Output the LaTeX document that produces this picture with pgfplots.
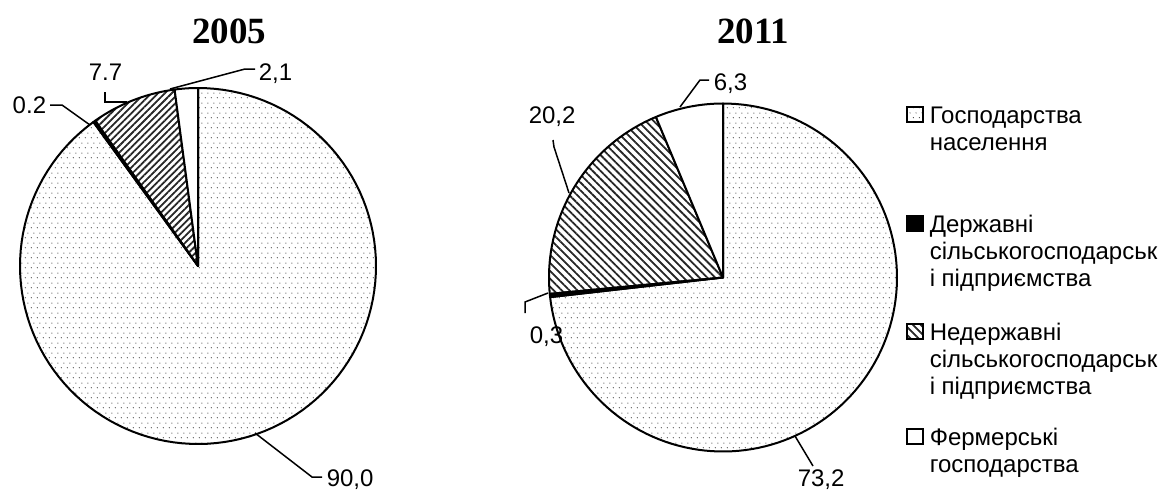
\documentclass[border=0pt]{standalone}
\usepackage{fontspec}
\setmainfont{Liberation Sans}
\newfontfamily\serif{Liberation Serif}
\usepackage{pgfplots}
\pgfplotsset{compat=1.18}
\usetikzlibrary{patterns,patterns.meta}

\pgfdeclarepatternformonly{sparsedots}{\pgfqpoint{0pt}{0pt}}{\pgfqpoint{3pt}{5pt}}{\pgfqpoint{3pt}{5pt}}{%
  \pgfpathcircle{\pgfqpoint{0.75pt}{1.25pt}}{0.32pt}%
  \pgfpathcircle{\pgfqpoint{2.25pt}{3.75pt}}{0.32pt}%
  \pgfusepath{fill}}

% #1 cumulative start (%), #2 share (%), #3 radius, #4 style
\newcommand\slice[4]{%
  \addplot[#4, line width=1pt, line join=round, domain={90-3.6*(#1+#2)}:{90-3.6*(#1)}, samples=120]
    ({#3*cos(x)},{#3*sin(x)}) -- (axis cs:0,0) -- cycle;}

\tikzset{
  dotsty/.style={draw=black, pattern=sparsedots, pattern color=black!75},
  hatchA/.style={draw=black, pattern={Lines[angle=45,distance=2.4pt,line width=0.9pt]}, pattern color=black!85},
  hatchB/.style={draw=black, pattern={Lines[angle=-45,distance=2.8pt,line width=0.9pt]}, pattern color=black!85},
  blacksty/.style={draw=black, fill=black},
  whitesty/.style={draw=black, fill=white},
}

\begin{document}
\begin{tikzpicture}[every node/.style={font=\fontsize{12}{13.5}\selectfont, inner sep=0pt}]
% ---- 2005 ----
\begin{axis}[at={(99pt,-133pt)}, anchor=center, x=0.5pt, y=0.5pt,
  xmin=-180, xmax=180, ymin=-180, ymax=180, hide axis, clip=false]
\slice{0}{90.0}{178}{dotsty}
\slice{90.0}{0.2}{178}{blacksty}
\slice{90.2}{7.7}{178}{hatchA}
\slice{97.9}{2.1}{178}{whitesty}
\end{axis}
% ---- 2011 ----
\begin{axis}[at={(361.5pt,-138.75pt)}, anchor=center, x=0.5pt, y=0.5pt,
  xmin=-180, xmax=180, ymin=-180, ymax=180, hide axis, clip=false]
\slice{0}{73.2}{174}{dotsty}
\slice{73.2}{0.3}{174}{blacksty}
\slice{73.5}{20.2}{174}{hatchB}
\slice{93.7}{6.3}{174}{whitesty}
\end{axis}

\begin{scope}[x=0.5pt, y=-0.5pt, line width=0.75pt]
% titles
\node[anchor=base] at (229,43) {\serif\bfseries\fontsize{18.5}{20}\selectfont 2005};
\node[anchor=base] at (753,43) {\serif\bfseries\fontsize{18.5}{20}\selectfont 2011};
% 2005 labels
\draw (170,89) -- (245,69) -- (255,69);
\node[anchor=base west] at (258,80) {2,1};
\draw (127,102) -- (105,102) -- (105,92);
\node[anchor=base west] at (88,80) {7.7};
\draw (50,105) -- (62,105) -- (90,125);
\node[anchor=base west] at (12,113) {0.2};
\draw (255,433) -- (312,477) -- (322,477);
\node[anchor=base west] at (326,486) {90,0};
% 2011 labels
\draw (680,107) -- (700,80) -- (709,80);
\node[anchor=base west] at (713,90) {6,3};
\draw (553,140) -- (554,147) -- (569,193);
\node[anchor=base west] at (528,123) {20,2};
\draw (548,293) -- (525,302) -- (525,313);
\node[anchor=base west] at (529,343) {0,3};
\draw (795,436) -- (813,466);
\node[anchor=base west] at (797,486) {73,2};
% legend
\begin{scope}[line width=0.9pt]
\draw[dotsty] (907,107) rectangle (923,122);
\draw[blacksty] (907,216) rectangle (923,231);
\draw[hatchB] (907,324) rectangle (923,339);
\draw[whitesty] (907,429) rectangle (923,444);
\end{scope}
\node[anchor=base west] at (929,123) {Господарства};
\node[anchor=base west] at (929,150) {населення};
\node[anchor=base west] at (929,232) {Державні};
\node[anchor=base west] at (929,259) {сільськогосподарськ};
\node[anchor=base west] at (929,286) {і підприємства};
\node[anchor=base west] at (929,340) {Недержавні};
\node[anchor=base west] at (929,367) {сільськогосподарськ};
\node[anchor=base west] at (929,394) {і підприємства};
\node[anchor=base west] at (929,445) {Фермерські};
\node[anchor=base west] at (929,472) {господарства};
\end{scope}
\pgfresetboundingbox
\path[use as bounding box] (0,0) rectangle (581pt,-244.5pt);
\end{tikzpicture}
\end{document}
